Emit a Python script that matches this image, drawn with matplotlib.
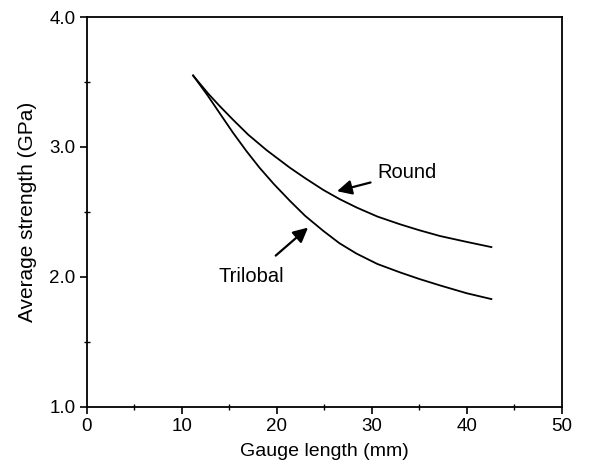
import matplotlib
matplotlib.use('Agg')
import matplotlib.pyplot as plt
from matplotlib.ticker import MultipleLocator

plt.rcParams['font.family'] = ['Liberation Sans', 'DejaVu Sans']

# values
round_x = [11.2, 12.0, 12.8, 14.0, 15.4, 17.0, 18.95, 21.4, 23.0, 24.9,
           26.6, 28.4, 30.6, 33.0, 35.0, 37.2, 40.0, 42.6]
round_y = [3.55, 3.48, 3.41, 3.315, 3.21, 3.095, 2.975, 2.84, 2.76, 2.67,
           2.60, 2.535, 2.465, 2.405, 2.36, 2.315, 2.27, 2.23]

trilobal_x = [11.2, 12.0, 12.7, 14.0, 15.4, 16.8, 18.2, 19.7, 21.4, 23.0,
              24.9, 26.6, 28.4, 30.6, 33.0, 35.0, 37.2, 40.0, 42.6]
trilobal_y = [3.55, 3.47, 3.40, 3.26, 3.11, 2.97, 2.84, 2.715, 2.585, 2.47,
              2.355, 2.26, 2.18, 2.10, 2.035, 1.985, 1.935, 1.875, 1.83]

x_ticks = [0, 10, 20, 30, 40, 50]
y_ticks = [1.0, 2.0, 3.0, 4.0]
y_tick_labels = ['1.0', '2.0', '3.0', '4.0']


def main():
    fig = plt.figure(figsize=(6.13, 4.75), dpi=100)
    ax = fig.add_axes([0.1414, 0.1432, 0.7749, 0.821])

    ax.plot(round_x, round_y, color='black', lw=1.3)
    ax.plot(trilobal_x, trilobal_y, color='black', lw=1.3)

    ax.set_xlim(0, 50)
    ax.set_ylim(1.0, 4.0)
    ax.set_xticks(x_ticks)
    ax.set_yticks(y_ticks)
    ax.set_yticklabels(y_tick_labels)
    ax.xaxis.set_minor_locator(MultipleLocator(5))
    ax.yaxis.set_minor_locator(MultipleLocator(0.5))
    ax.tick_params(which='major', direction='out', length=5, width=1.2,
                   labelsize=13.5, pad=3)
    ax.tick_params(which='minor', direction='inout', length=4, width=1.0)

    for s in ax.spines.values():
        s.set_linewidth(1.3)

    ax.set_xlabel('Gauge length (mm)', fontsize=14, labelpad=6)
    ax.set_ylabel('Average strength (GPa)', fontsize=15, labelpad=9)

    # labels with arrows
    ax.annotate('Round', xy=(26.35, 2.66), xytext=(30.6, 2.80),
                fontsize=14.5, ha='left', va='center',
                arrowprops=dict(arrowstyle='-|>', color='black', lw=1.6,
                                mutation_scale=22, shrinkA=3, shrinkB=0))
    ax.annotate('Trilobal', xy=(23.3, 2.38), xytext=(17.3, 2.0),
                fontsize=14.5, ha='center', va='center',
                arrowprops=dict(arrowstyle='-|>', color='black', lw=1.6,
                                mutation_scale=22, shrinkA=10, shrinkB=0))

    fig.savefig('out.png', dpi=100)


if __name__ == '__main__':
    main()
